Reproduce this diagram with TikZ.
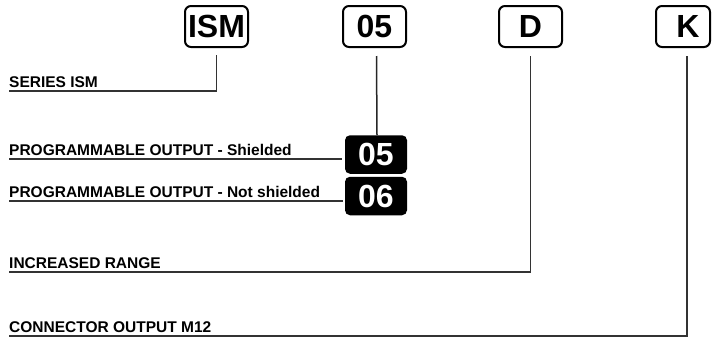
\documentclass[tikz,border=0pt]{standalone}
\usepackage{fontspec}
\setmainfont{Liberation Sans}
\begin{document}
\begin{tikzpicture}[x=1pt,y=-1pt,
  codebox/.style={draw=black, line width=2pt, rounded corners=6pt, minimum width=63pt, minimum height=41pt, inner sep=0pt},
  codetxt/.style={inner sep=0pt, font=\fontsize{32}{32}\selectfont\bfseries},
  blk/.style={fill=black, rounded corners=5pt, minimum width=62pt, minimum height=38.5pt, inner sep=0pt, text=white, font=\fontsize{32}{32}\selectfont\bfseries},
  lbl/.style={anchor=base west, inner sep=0pt, font=\fontsize{15.5}{16}\selectfont\bfseries},
  ul/.style={draw=black!80, line width=1.8pt},
  lead/.style={draw=black!85, line width=1.5pt}]
\useasboundingbox (0,0) rectangle (712,338);

% top code boxes
\node[codebox, codetxt] (ism) at (216.5,26.5) {ISM};
\node[codebox, codetxt] (c05) at (374.5,26.5) {05};
\node[codebox, codetxt] (cD) at (530.5,26.5) {D};
\node[codebox, minimum width=54pt] (cK) at (683,26.5) {};
\node[codetxt] (cKt) at (688,26.5) {K};

% black option boxes
\node[blk] (b05) at (376,154.5) {05};
\node[blk] (b06) at (376,196) {06};

% labels
\node[lbl] (lSer) at (9,87) {SERIES ISM};
\node[lbl] (lProgA) at (9,155) {PROGRAMMABLE OUTPUT - Shielded};
\node[lbl] (lProgB) at (9,197) {PROGRAMMABLE OUTPUT - Not shielded};
\node[lbl] (lInc) at (9,268) {INCREASED RANGE};
\node[lbl] (lCon) at (9,332) {CONNECTOR OUTPUT M12};

% connectors
\draw[ul] ([yshift=-7pt]ism.south) |- ([yshift=-4pt]lSer.base west);
\draw[lead] ([xshift=2pt,yshift=-8pt]c05.south) -- ([xshift=1pt]b05.north);
\draw[ul] ([yshift=-4pt]lProgA.base west) -- ([xshift=-3pt,yshift=-4pt]lProgA.base west -| b05.west);
\draw[ul] ([yshift=-4pt]lProgB.base west) -- ([xshift=-2pt,yshift=-4pt]lProgB.base west -| b06.west);
\draw[ul] ([yshift=-8pt]cD.south) |- ([yshift=-4pt]lInc.base west);
\draw[ul] ([xshift=-1pt,yshift=-8pt]cKt |- cK.south) |- ([yshift=-4pt]lCon.base west);
\end{tikzpicture}
\end{document}
